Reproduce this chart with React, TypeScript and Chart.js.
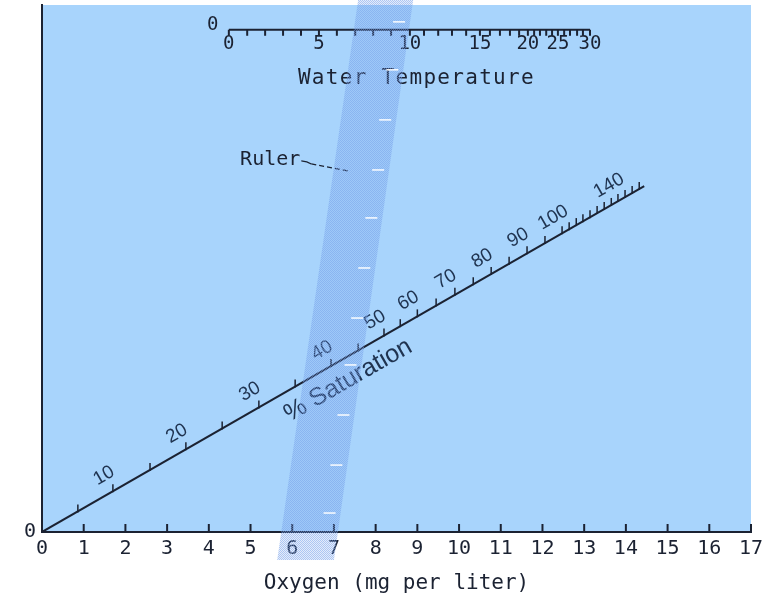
import React, { useEffect, useRef } from "react";
import { Chart, registerables } from "chart.js";

Chart.register(...registerables);

// ---- Data ----
const oxygenMin = 0;
const oxygenMax = 17;
const heightMin = 0;
const heightMax = 100;

// % saturation line (oxygen units on x, arbitrary height units on y)
const diagonalX = [0, 14.44];
const diagonalY = [0, 65.65];

const saturationValues = [
  5, 10, 15, 20, 25, 30, 35, 40, 45, 50, 55, 60, 65, 70, 75, 80, 85, 90, 95, 100,
  105, 110, 115, 120, 125, 130, 135, 140, 145, 150, 155,
];
// position of each % tick along the saturation line, in oxygen-axis units
const saturationPositions = [
  0.86, 1.7, 2.59, 3.45, 4.32, 5.2, 6.07, 6.93, 7.58, 8.2, 8.59, 9.0, 9.45, 9.9, 10.34,
  10.77, 11.2, 11.63, 12.06, 12.47, 12.64, 12.81, 12.97, 13.14, 13.31, 13.48, 13.65,
  13.81, 13.98, 14.15, 14.32,
];
const saturationLabels = [10, 20, 30, 40, 50, 60, 70, 80, 90, 100, 140];

// water temperature scale (top)
const temperatureValues = [
  0, 1, 2, 3, 4, 5, 6, 7, 8, 9, 10, 11, 12, 13, 14, 15, 16, 17, 18, 19, 20, 21, 22,
  23, 24, 25, 26, 27, 28, 29, 30,
];
const temperaturePositions = [
  4.48, 4.92, 5.35, 5.78, 6.21, 6.64, 7.07, 7.51, 7.94, 8.37, 8.82, 9.16, 9.5, 9.83,
  10.17, 10.5, 10.74, 10.98, 11.22, 11.44, 11.65, 11.8, 11.94, 12.09, 12.23, 12.37,
  12.52, 12.66, 12.83, 12.97, 13.14,
];
const temperatureLabels = [0, 5, 10, 15, 20, 25, 30];
const temperatureAxisY = [95.3];

// ruler band: [bottom, top]
const rulerLeftX = [5.64, 7.58];
const rulerRightX = [7.0, 8.9];
const rulerY = [-5.3, 100.95];
const rulerMarkY = [96.8, 87.7, 78.2, 68.7, 59.6, 50.1, 40.6, 31.7, 22.2, 12.7, 3.6];

// annotation anchors
const rulerLabelAt = [4.75, 70.6];
const rulerPointerAt = [7.34, 68.5];
const saturationTitleAt = [5.6];

// ---- Style ----
const INK = "#1b2232";
const LABEL_INK = "#1f3350";
const BG = "#a8d4fc";
const MONO = '"DejaVu Sans Mono", monospace';
const SANS = '"Liberation Sans", Arial, sans-serif';

function makeRulerPattern(ctx: CanvasRenderingContext2D) {
  const pc = document.createElement("canvas");
  pc.width = 2;
  pc.height = 2;
  const p = pc.getContext("2d")!;
  p.fillStyle = "rgba(118,160,234,0.6)";
  p.fillRect(0, 0, 1, 1);
  p.fillRect(1, 1, 1, 1);
  p.fillStyle = "rgba(118,160,234,0.2)";
  p.fillRect(1, 0, 1, 1);
  p.fillRect(0, 1, 1, 1);
  return ctx.createPattern(pc, "repeat");
}

const nomogramPlugin = {
  id: "nomogram",
  beforeDraw(chart: any) {
    const { ctx, chartArea: a } = chart;
    ctx.save();
    ctx.fillStyle = BG;
    ctx.fillRect(a.left, a.top, a.right - a.left, a.bottom - a.top);
    ctx.restore();
  },
  afterDatasetsDraw(chart: any) {
    const { ctx, chartArea: a } = chart;
    const xs = chart.scales.x;
    const ys = chart.scales.y;
    const P = (x: number, y: number) => [xs.getPixelForValue(x), ys.getPixelForValue(y)];
    const seg = (x0: number, y0: number, x1: number, y1: number) => {
      ctx.beginPath();
      ctx.moveTo(x0, y0);
      ctx.lineTo(x1, y1);
      ctx.stroke();
    };
    ctx.save();
    ctx.strokeStyle = INK;
    ctx.fillStyle = INK;

    // inward ticks on the oxygen axis
    ctx.lineWidth = 2;
    xs.ticks.forEach((t: any) => {
      const px = xs.getPixelForValue(t.value);
      seg(px, a.bottom, px, a.bottom - 8);
    });

    // % saturation scale
    const [x0, y0] = P(diagonalX[0], diagonalY[0]);
    const [x1, y1] = P(diagonalX[1], diagonalY[1]);
    const ang = Math.atan2(y1 - y0, x1 - x0);
    const nx = Math.sin(ang);
    const ny = -Math.cos(ang);
    const slope = (diagonalY[1] - diagonalY[0]) / (diagonalX[1] - diagonalX[0]);
    ctx.lineWidth = 1.5;
    ctx.font = `19px ${SANS}`;
    ctx.textAlign = "center";
    ctx.textBaseline = "middle";
    saturationValues.forEach((v, i) => {
      const ox = saturationPositions[i];
      const [px, py] = P(ox, slope * ox);
      ctx.strokeStyle = INK;
      seg(px, py + 1, px, py - 7);
      if (saturationLabels.includes(v)) {
        ctx.save();
        ctx.translate(px + nx * 18, py + ny * 18);
        ctx.rotate(ang);
        ctx.fillStyle = LABEL_INK;
        ctx.fillText(String(v), 0, 0);
        ctx.restore();
      }
    });
    // "% Saturation" title under the line
    {
      const ox = saturationTitleAt[0];
      const [px, py] = P(ox, slope * ox);
      ctx.save();
      ctx.translate(px - nx * 21, py - ny * 21);
      ctx.rotate(ang);
      ctx.font = `25px ${SANS}`;
      ctx.textAlign = "left";
      ctx.fillStyle = LABEL_INK;
      ctx.fillText("% Saturation", 0, 0);
      ctx.restore();
    }

    // water temperature scale
    const lineY = ys.getPixelForValue(temperatureAxisY[0]);
    ctx.strokeStyle = INK;
    ctx.lineWidth = 2;
    ctx.font = `19px ${MONO}`;
    ctx.textAlign = "center";
    ctx.textBaseline = "middle";
    temperatureValues.forEach((v, i) => {
      const px = xs.getPixelForValue(temperaturePositions[i]);
      seg(px, lineY, px, lineY + 6);
      if (temperatureLabels.includes(v)) ctx.fillText(String(v), px, lineY + 14);
    });
    const t0 = xs.getPixelForValue(temperaturePositions[0]);
    const tN = xs.getPixelForValue(temperaturePositions[temperaturePositions.length - 1]);
    ctx.fillText("0", t0 - 16, lineY - 5);
    ctx.save();
    ctx.font = `21px ${MONO}`;
    (ctx as any).letterSpacing = "1.3px";
    ctx.fillText("Water Temperature", (t0 + tN) / 2 + 7, lineY + 49);
    ctx.restore();

    // "Ruler" label with its leader
    const [rlx, rly] = P(rulerLabelAt[0], rulerLabelAt[1]);
    ctx.font = `20px ${MONO}`;
    ctx.textAlign = "left";
    ctx.fillText("Ruler", rlx, rly);
    const w = ctx.measureText("Ruler").width;
    const [ex, ey] = P(rulerPointerAt[0], rulerPointerAt[1]);
    const sx = rlx + w + 1;
    const sy = rly + 1;
    ctx.lineWidth = 1.3;
    ctx.beginPath();
    ctx.moveTo(sx, sy);
    ctx.quadraticCurveTo(sx + 6, sy + 0.5, sx + 10, sy + 3);
    ctx.stroke();
    ctx.setLineDash([5, 3]);
    ctx.beginPath();
    ctx.moveTo(sx + 10, sy + 3);
    ctx.lineTo(ex, ey);
    ctx.stroke();
    ctx.setLineDash([]);
    ctx.restore();
  },
  afterDraw(chart: any) {
    const { ctx } = chart;
    const xs = chart.scales.x;
    const ys = chart.scales.y;
    const P = (x: number, y: number) => [xs.getPixelForValue(x), ys.getPixelForValue(y)];
    const bl = P(rulerLeftX[0], rulerY[0]);
    const tl = P(rulerLeftX[1], rulerY[1]);
    const tr = P(rulerRightX[1], rulerY[1]);
    const br = P(rulerRightX[0], rulerY[0]);
    ctx.save();
    ctx.fillStyle = makeRulerPattern(ctx) || "rgba(118,160,234,0.4)";
    ctx.beginPath();
    ctx.moveTo(bl[0], bl[1]);
    ctx.lineTo(tl[0], tl[1]);
    ctx.lineTo(tr[0], tr[1]);
    ctx.lineTo(br[0], br[1]);
    ctx.closePath();
    ctx.fill();
    ctx.strokeStyle = "rgba(255,255,255,0.9)";
    ctx.lineWidth = 1.6;
    rulerMarkY.forEach((m) => {
      const py = ys.getPixelForValue(m);
      const t = (py - br[1]) / (tr[1] - br[1]);
      const xr = br[0] + t * (tr[0] - br[0]);
      ctx.beginPath();
      ctx.moveTo(xr - 17, py);
      ctx.lineTo(xr - 5, py);
      ctx.stroke();
    });
    ctx.restore();
  },
};

export default function App() {
  const ref = useRef<HTMLCanvasElement>(null);
  useEffect(() => {
    if (!ref.current) return;
    const chart = new Chart(ref.current, {
      type: "scatter",
      data: {
        datasets: [
          {
            label: "% Saturation",
            data: diagonalX.map((x, i) => ({ x, y: diagonalY[i] })),
            showLine: true,
            borderColor: INK,
            borderWidth: 2,
            pointRadius: 0,
          },
          {
            label: "Water Temperature",
            data: [
              { x: temperaturePositions[0], y: temperatureAxisY[0] },
              { x: temperaturePositions[temperaturePositions.length - 1], y: temperatureAxisY[0] },
            ],
            showLine: true,
            borderColor: INK,
            borderWidth: 2,
            pointRadius: 0,
          },
        ],
      },
      options: {
        responsive: false,
        animation: false,
        devicePixelRatio: 1,
        events: [],
        layout: { padding: { left: 20, right: 32, top: 5, bottom: 0 } },
        plugins: { legend: { display: false }, tooltip: { enabled: false } },
        scales: {
          x: {
            type: "linear",
            min: oxygenMin,
            max: oxygenMax,
            grid: { display: false, drawTicks: false },
            border: { display: true, color: INK, width: 2 },
            ticks: {
              stepSize: 1,
              autoSkip: false,
              maxRotation: 0,
              color: INK,
              padding: 5,
              font: { family: MONO, size: 20 },
            },
            title: {
              display: true,
              text: "Oxygen (mg per liter)",
              color: INK,
              font: { family: MONO, size: 21 },
              padding: { top: 0, bottom: 5 },
            },
            afterFit: (s: any) => {
              s.height = 69;
              s.paddingLeft = 0;
              s.paddingRight = 0;
            },
          },
          y: {
            type: "linear",
            min: heightMin,
            max: heightMax,
            grid: { display: false, drawTicks: false },
            border: { display: true, color: INK, width: 2 },
            ticks: {
              color: INK,
              padding: 6,
              font: { family: MONO, size: 20 },
            },
            afterBuildTicks: (s: any) => {
              s.ticks = [{ value: 0 }];
            },
            afterFit: (s: any) => {
              s.width = 22;
              s.paddingTop = 0;
              s.paddingBottom = 0;
            },
          },
        },
      },
      plugins: [nomogramPlugin],
    });
    return () => chart.destroy();
  }, []);
  return (
    <div style={{ position: "absolute", left: 0, top: 0, width: 783, height: 601, background: "#fff" }}>
      <canvas ref={ref} width={783} height={601} style={{ display: "block", width: 783, height: 601 }} />
    </div>
  );
}
